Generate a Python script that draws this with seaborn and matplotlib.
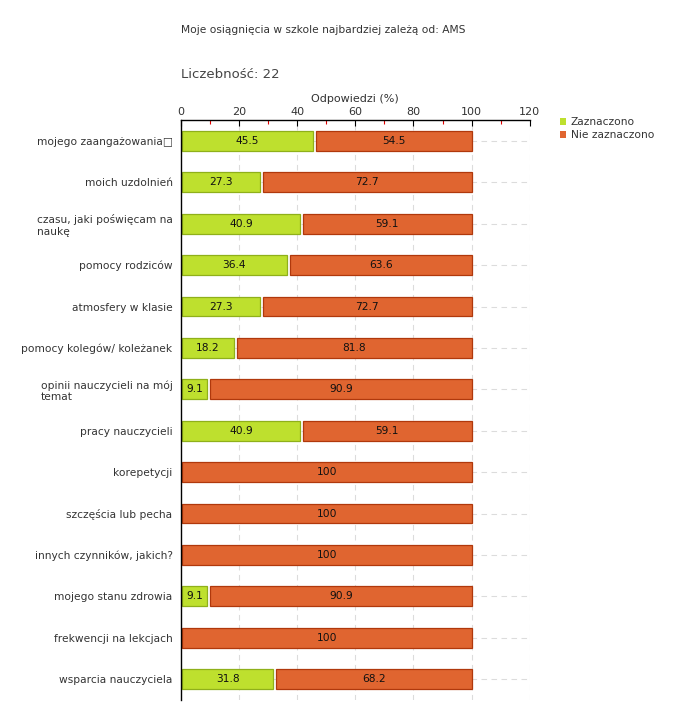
import numpy as np
import pandas as pd
import matplotlib
matplotlib.use("Agg")
import matplotlib.pyplot as plt
import matplotlib.ticker as mtick
from matplotlib.patches import Patch
import seaborn as sns

# data
categories = [
    "mojego zaangażowania\u25a1",
    "moich uzdolnień",
    "czasu, jaki poświęcam na\nnaukę",
    "pomocy rodziców",
    "atmosfery w klasie",
    "pomocy kolegów/ koleżanek",
    "opinii nauczycieli na mój\ntemat",
    "pracy nauczycieli",
    "korepetycji",
    "szczęścia lub pecha",
    "innych czynników, jakich?",
    "mojego stanu zdrowia",
    "frekwencji na lekcjach",
    "wsparcia nauczyciela",
]
zaznaczono = [45.5, 27.3, 40.9, 36.4, 27.3, 18.2, 9.1, 40.9, 0, 0, 0, 9.1, 0, 31.8]
nie_zaznaczono = [54.5, 72.7, 59.1, 63.6, 72.7, 81.8, 90.9, 59.1, 100, 100, 100, 90.9, 100, 68.2]
series_names = ["Zaznaczono", "Nie zaznaczono"]
x_ticks = [0, 20, 40, 60, 80, 100, 120]

green = "#bee02e"
green_edge = "#8fb01a"
orange = "#e06530"
orange_edge = "#b0380c"
txt = "#333333"

sns.set_style("white")
plt.rcParams['font.family'] = ['DejaVu Sans']

fig = plt.figure(figsize=(6.8, 7.2), dpi=100)
ax = fig.add_axes([0.266, 0.028, 0.513, 0.805])

df = pd.DataFrame({"cat": categories, "z": zaznaczono, "n": nie_zaznaczono})
df["y"] = np.arange(len(categories))
bh = 0.48
gap = 1.0
x0 = 0.4

# grid lines first
for x in x_ticks[1:]:
    ax.axvline(x, color="#dcdcdc", lw=0.8, ls=(0, (5, 4)), zorder=0)
for y in df["y"]:
    ax.axhline(y, color="#dcdcdc", lw=0.8, ls=(0, (5, 4)), zorder=0)

# green segments (only where something was chosen)
gz = df[df["z"] > 0]
ax.barh(gz["y"], gz["z"] - x0, left=x0, height=bh, color=green,
        edgecolor=green_edge, lw=0.9, zorder=2)
# orange segments start after the green one with a small gap
df["start"] = np.where(df["z"] > 0, df["z"] + gap, x0)
ax.barh(df["y"], 100 - df["start"], left=df["start"], height=bh, color=orange,
        edgecolor=orange_edge, lw=0.9, zorder=2)

for _, r in df.iterrows():
    if r["z"] > 0:
        ax.text((x0 + r["z"]) / 2, r["y"], f"{r['z']:g}", ha="center", va="center",
                fontsize=7.7, color="#111111", zorder=3)
    ax.text((r["start"] + 100) / 2, r["y"], f"{r['n']:g}", ha="center", va="center",
            fontsize=7.7, color="#111111", zorder=3)

ax.set_xlim(0, 120)
ax.set_ylim(len(categories) - 0.5, -0.5)
ax.xaxis.tick_top()
ax.xaxis.set_label_position("top")
ax.set_xticks(x_ticks)
ax.xaxis.set_minor_locator(mtick.FixedLocator([10, 30, 50, 70, 90, 110]))
ax.tick_params(axis="x", which="major", direction="in", length=4, width=0.8,
               color="black", labelsize=8, labelcolor=txt, pad=2)
ax.tick_params(axis="x", which="minor", direction="in", length=3, width=0.8,
               color="#e00000")
ax.set_xlabel("Odpowiedzi (%)", fontsize=8, color=txt, labelpad=4)

ax.set_yticks(df["y"])
ax.set_yticklabels(categories, fontsize=7.7, color=txt, multialignment="left")
ax.tick_params(axis="y", direction="out", length=3, width=0.8, color="black", pad=3)

for side in ["right", "bottom"]:
    ax.spines[side].set_visible(False)
for side in ["top", "left"]:
    ax.spines[side].set_color("black")
    ax.spines[side].set_linewidth(1.0)

fig.text(181 / 680, 1 - 30 / 720, "Moje osiągnięcia w szkole najbardziej zależą od: AMS",
         fontsize=7.7, color=txt, va="center", ha="left")
fig.text(181 / 680, 1 - 75 / 720, "Liczebność: 22",
         fontsize=9.5, color="#444444", va="center", ha="left")

# legend
handles = [Patch(facecolor=green, edgecolor="none"), Patch(facecolor=orange, edgecolor="none")]
fig.legend(handles, series_names, loc="upper left", bbox_to_anchor=(560 / 680, 1 - 117 / 720),
           frameon=False, fontsize=7.7, handlelength=0.6, handleheight=0.6,
           handletextpad=0.4, labelspacing=0.3, borderaxespad=0, borderpad=0,
           labelcolor=txt)

fig.savefig("out.png", dpi=100)
